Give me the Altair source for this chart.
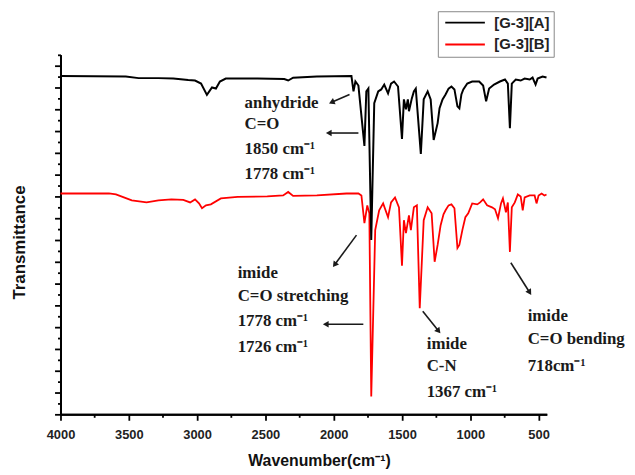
import math
import altair as alt
import pandas as pd

# ---------------- data ----------------
series_names = ["[G-3][A]", "[G-3][B]"]
series_colors = ["#000000", "#ff0000"]

wn_A = [4000, 3522, 3428, 3283, 3174, 3065, 3015, 2971, 2928, 2891, 2862, 2833, 2790, 2558,
        2362, 2333, 2297, 2123, 1870, 1855, 1841, 1819, 1775, 1761, 1746, 1725, 1703, 1674,
        1652, 1630, 1602, 1580, 1558, 1529, 1500, 1486, 1471, 1457, 1449, 1428, 1413, 1399,
        1362, 1341, 1312, 1290, 1268, 1239, 1225, 1203, 1181, 1159, 1138, 1116, 1094, 1080,
        1065, 1051, 1022, 986, 935, 906, 884, 862, 826, 783, 746, 725, 710, 696, 667, 631,
        602, 565, 544, 522, 507, 471, 442]
tr_A = [31.05, 31.0, 30.86, 30.86, 30.82, 30.68, 30.64, 30.36, 29.32, 30.0, 29.9, 30.55, 30.82,
        30.82, 30.77, 30.64, 30.9, 31.0, 31.05, 29.64, 30.55, 30.18, 24.64, 29.64, 29.9, 16.0,
        28.55, 29.64, 29.82, 30.27, 29.45, 30.36, 30.55, 30.09, 25.27, 28.91, 28.0, 28.91,
        27.82, 29.0, 29.64, 29.9, 23.9, 28.91, 29.64, 28.91, 25.18, 26.73, 28.1, 28.9, 29.36,
        29.9, 30.09, 29.82, 28.27, 28.09, 29.36, 29.82, 30.36, 30.55, 30.55, 30.18, 28.73,
        29.9, 30.27, 30.55, 30.73, 30.36, 26.27, 30.36, 30.73, 30.64, 30.82, 30.73, 30.91,
        30.27, 30.82, 31.0, 30.91]

wn_B = [4000, 3645, 3594, 3536, 3478, 3370, 3283, 3188, 3101, 3051, 3015, 2986, 2964, 2935,
        2899, 2826, 2703, 2486, 2370, 2333, 2297, 2123, 1906, 1819, 1797, 1775, 1754, 1739,
        1725, 1696, 1667, 1638, 1602, 1580, 1551, 1522, 1500, 1486, 1471, 1449, 1435, 1413,
        1391, 1370, 1341, 1312, 1283, 1261, 1239, 1217, 1196, 1181, 1159, 1138, 1116, 1094,
        1080, 1058, 1036, 1015, 986, 949, 928, 906, 877, 841, 819, 797, 775, 761, 739, 725,
        710, 696, 674, 652, 631, 616, 602, 565, 529, 515, 500, 478, 457, 442]
tr_B = [20.27, 20.27, 20.18, 19.91, 19.64, 19.45, 19.64, 19.73, 19.68, 19.45, 19.73, 19.36,
        18.91, 19.18, 19.27, 19.82, 19.95, 20.0, 20.09, 20.41, 20.05, 20.09, 20.27, 20.27,
        20.09, 17.55, 19.18, 18.45, 1.64, 16.91, 18.73, 19.36, 18.09, 19.45, 19.91, 19.0,
        13.64, 17.82, 16.64, 18.27, 16.91, 19.0, 19.18, 9.73, 17.82, 19.0, 18.45, 14.0, 15.55,
        17.36, 18.36, 18.73, 19.18, 19.27, 18.91, 15.27, 15.55, 16.91, 18.09, 18.45, 19.36,
        19.27, 19.45, 19.73, 19.18, 19.0, 18.82, 18.0, 19.36, 19.82, 18.55, 19.45, 14.91,
        19.0, 19.45, 20.18, 20.0, 18.73, 19.91, 20.09, 20.09, 19.36, 20.09, 20.27, 20.09, 20.18]

note_text = ["anhydride", "C=O", "1850 cm⁻¹", "1778 cm⁻¹",
             "imide", "C=O stretching", "1778 cm⁻¹", "1726 cm⁻¹",
             "imide", "C-N", "1367 cm⁻¹",
             "imide", "C=O bending", "718cm⁻¹"]
note_wn = [2652, 2652, 2652, 2652, 2703, 2703, 2703, 2703, 1319, 1319, 1319, 580, 580, 580]
note_tr = [28.55, 26.64, 24.36, 22.09, 13.0, 10.82, 8.55, 6.18, 6.45, 4.45, 2.09, 9.0, 6.91, 4.45]

arrow_wn_tail = [1884, 1819, 1833, 1783, 1348, 703]
arrow_tr_tail = [29.36, 25.82, 16.45, 8.27, 9.45, 13.91]
arrow_wn_head = [2015, 2036, 1993, 2058, 1232, 565]
arrow_tr_head = [28.64, 25.82, 13.73, 8.27, 7.64, 11.18]

x_major = [4000, 3500, 3000, 2500, 2000, 1500, 1000, 500]
x_minor = [3750, 3250, 2750, 2250, 1750, 1250, 750]
y_major = [0, 2, 4, 6, 8, 10, 12, 14, 16, 18, 20, 22, 24, 26, 28, 30, 32]
y_minor = [1, 3, 5, 7, 9, 11, 13, 15, 17, 19, 21, 23, 25, 27, 29, 31, 33]

assert len(wn_A) == len(tr_A) and len(wn_B) == len(tr_B)

# ---------------- layout ----------------
W, H = 491, 363
X_DOMAIN = [4000, 440]
Y_DOMAIN = [0, 33]
px_per_wn = W / (X_DOMAIN[0] - X_DOMAIN[1])
px_per_tr = H / (Y_DOMAIN[1] - Y_DOMAIN[0])

dfA = pd.DataFrame({"w": wn_A, "t": tr_A, "s": series_names[0]})
dfB = pd.DataFrame({"w": wn_B, "t": tr_B, "s": series_names[1]})
notes = pd.DataFrame({"w": note_wn, "t": note_tr, "txt": note_text})

angles = []
for wt, tt, wh, th in zip(arrow_wn_tail, arrow_tr_tail, arrow_wn_head, arrow_tr_head):
    dx = -(wh - wt) * px_per_wn
    dy = -(th - tt) * px_per_tr
    angles.append(math.degrees(math.atan2(dx, -dy)) % 360)
arrows = pd.DataFrame({"w1": arrow_wn_tail, "t1": arrow_tr_tail,
                       "w2": arrow_wn_head, "t2": arrow_tr_head, "ang": angles})

x_scale = alt.Scale(domain=X_DOMAIN, nice=False, zero=False)
y_scale = alt.Scale(domain=Y_DOMAIN, nice=False, zero=False)

x_axis_major = alt.Axis(
    orient="bottom", values=x_major, format="d", tickSize=6,
    labelOverlap=False, labelFlush=False, labelPadding=8,
    title="Wavenumber(cm⁻¹)", titleX=261, titleY=47, titleBaseline="middle",
    titleAlign="center", titleFontSize=16,
)
x_axis_minor = alt.Axis(orient="bottom", values=x_minor, tickSize=3, labels=False, title=None)
y_axis_major = alt.Axis(
    orient="left", values=y_major, labels=False, tickSize=6,
    title="Transmittance", titleX=-41, titleY=189, titleAngle=270,
    titleAlign="center", titleBaseline="middle", titleFontSize=17,
)
y_axis_minor = alt.Axis(orient="left", values=y_minor, tickSize=3, labels=False, title=None)

color = alt.Color(
    "s:N",
    scale=alt.Scale(domain=series_names, range=series_colors),
    legend=alt.Legend(
        title=None, orient="none", legendX=381, legendY=-44,
        symbolType="M-4,0H4", symbolSize=100, symbolStrokeWidth=2,
        symbolOffset=16, labelOffset=22,
        labelFont="Liberation Sans", labelFontSize=15, labelFontWeight="bold",
        labelColor="#222222", strokeColor="#888888", fillColor="white",
        padding=4, rowPadding=6,
    ),
)

lineB = alt.Chart(dfB).mark_line(strokeWidth=1.8).encode(
    x=alt.X("w:Q", scale=x_scale, axis=x_axis_major),
    y=alt.Y("t:Q", scale=y_scale, axis=y_axis_major),
    color=color,
)
lineA = alt.Chart(dfA).mark_line(strokeWidth=2).encode(
    x=alt.X("w:Q", scale=x_scale, axis=x_axis_minor),
    y=alt.Y("t:Q", scale=y_scale, axis=y_axis_minor),
    color=color,
)

rules = alt.Chart(arrows).mark_rule(strokeWidth=1.6, color="#1a1a1a").encode(
    x=alt.X("w1:Q", axis=None), x2="w2:Q",
    y=alt.Y("t1:Q", axis=None), y2="t2:Q",
)
heads = alt.Chart(arrows).mark_point(shape="triangle-up", filled=True, size=45,
                                      color="#1a1a1a", opacity=1).encode(
    x=alt.X("w2:Q", axis=None), y=alt.Y("t2:Q", axis=None),
    angle=alt.Angle("ang:Q", scale=None),
)
texts = alt.Chart(notes).mark_text(
    align="left", baseline="middle", font="Liberation Serif", fontWeight="bold",
    fontSize=17, color="#1a1a1a",
).encode(x=alt.X("w:Q", axis=None), y=alt.Y("t:Q", axis=None), text="txt:N")

chart = alt.layer(lineB, lineA, rules, heads, texts).resolve_axis(
    x="independent", y="independent"
).properties(
    width=W, height=H,
    padding={"left": 53, "top": 45, "right": 81, "bottom": 58},
    autosize=alt.AutoSizeParams(type="none"),
).configure_view(stroke=None).configure_axis(
    grid=False, domainColor="#000000", domainWidth=2, tickColor="#000000", tickWidth=1.8,
    labelFont="Liberation Sans", labelFontSize=13, labelFontWeight="bold", labelColor="#222222",
    titleFont="Liberation Sans", titleFontWeight="bold", titleColor="#111111",
)

chart.save("out.html", embed_options={"renderer": "svg", "actions": False})
